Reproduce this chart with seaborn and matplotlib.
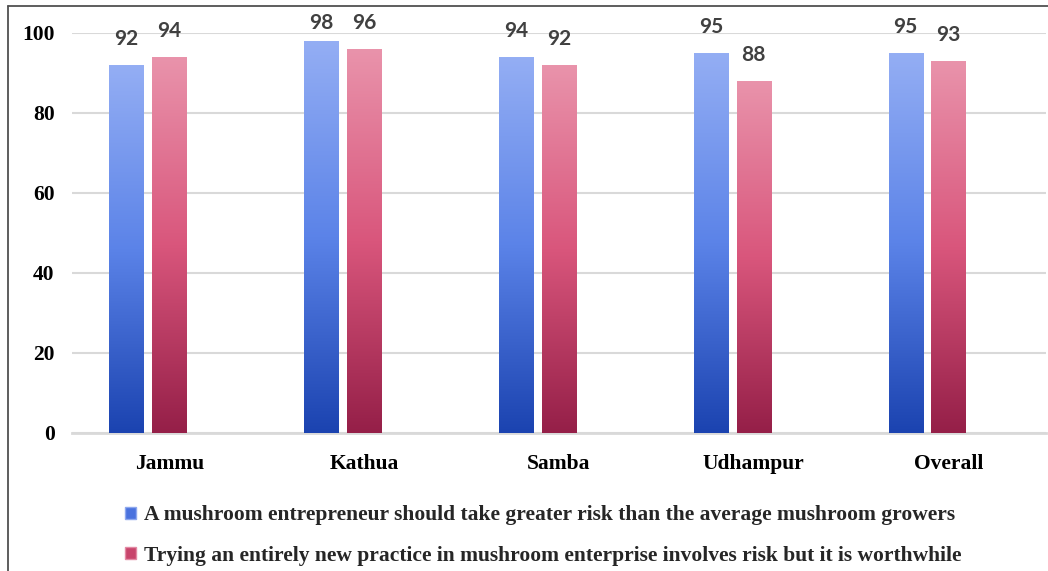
import numpy as np
import pandas as pd
import seaborn as sns
import matplotlib.pyplot as plt
from matplotlib.colors import LinearSegmentedColormap
from matplotlib.patches import Patch
from matplotlib.lines import Line2D

districts = ['Jammu', 'Kathua', 'Samba', 'Udhampur', 'Overall']
greater_risk = [92, 98, 94, 95, 95]
new_practice = [94, 96, 92, 88, 93]
empty_series = [np.nan] * 5  # excel chart had a third, empty series

lab1 = 'A mushroom entrepreneur should take greater risk than the average mushroom growers'
lab2 = 'Trying an entirely new practice in mushroom enterprise involves risk but it is worthwhile'

df = pd.DataFrame({
    'district': districts * 3,
    'series': [lab1] * 5 + [lab2] * 5 + ['blank'] * 5,
    'value': greater_risk + new_practice + empty_series,
})

sns.set_style('white')
plt.rcParams['font.family'] = ['Liberation Serif', 'DejaVu Serif']

fig = plt.figure(figsize=(10.48, 5.71), dpi=100)
ax = fig.add_axes([72/1048, 138/571, 974/1048, 400/571])

sns.barplot(data=df, x='district', y='value', hue='series',
            hue_order=[lab1, lab2, 'blank'], order=districts,
            palette=['#5b83e8', '#d9567c', '#ffffff'],
            width=0.66, gap=0.2, legend=False, ax=ax, zorder=3)

# gradient fill, light on top dark at bottom
cmaps = {
    0: LinearSegmentedColormap.from_list('b', ['#1b43b0', '#5b83e8', '#94aef4']),
    1: LinearSegmentedColormap.from_list('p', ['#951f48', '#d9567c', '#e993ab']),
}
grad = np.linspace(0, 1, 256).reshape(-1, 1)
bars = [p for p in ax.patches]
for i, p in enumerate(bars[:10]):
    s = i // 5
    x, w, h = p.get_x(), p.get_width(), p.get_height()
    if np.isnan(h) or h == 0:
        continue
    ax.imshow(grad, cmap=cmaps[s], extent=[x, x + w, 0, h], origin='lower',
              aspect='auto', zorder=3)
    p.set_facecolor('none')
    p.set_edgecolor('none')
    # value labels, excel pushes them down when they hit the top
    ytxt = min(h + 3.9, 99.9)
    ax.text(x + w / 2, ytxt, f'{int(h)}', ha='center', va='bottom',
            fontsize=15, fontweight='bold', family='Lato', color='#404040',
            clip_on=False, zorder=5)

ax.set_xlim(-0.5, 4.5)
ax.set_ylim(0, 100)
ax.set_yticks([0, 20, 40, 60, 80, 100])
ax.yaxis.grid(True, color='#d9d9d9', linewidth=1.5, zorder=0)
ax.set_axisbelow(True)
for side in ['top', 'right', 'left']:
    ax.spines[side].set_visible(False)
ax.spines['bottom'].set_color('#d9d9d9')
ax.spines['bottom'].set_linewidth(2)
ax.tick_params(axis='both', length=0, labelsize=15.5, colors='#000000')
ax.tick_params(axis='y', pad=12.5)
ax.tick_params(axis='x', pad=15)
for t in ax.get_xticklabels() + ax.get_yticklabels():
    t.set_fontweight('bold')
ax.set_xlabel('')
ax.set_ylabel('')

handles = [Patch(facecolor='#4a72de', edgecolor='#8ea8ee', label=lab1),
           Patch(facecolor='#c8456c', edgecolor='#e38aa4', label=lab2)]
fig.legend(handles=handles, loc='upper left', bbox_to_anchor=(106/1048, 1 - 486/571),
           frameon=False, prop={'weight': 'bold', 'size': 15.5},
           handlelength=0.5, handleheight=0.5, handletextpad=0.35, labelspacing=0.95)

# outer chart border (top and left visible)
fig.add_artist(Line2D([8/1048, 1], [1 - 6/571, 1 - 6/571], color='#505050', linewidth=1.3))
fig.add_artist(Line2D([8/1048, 8/1048], [0, 1 - 6/571], color='#505050', linewidth=1.3))

fig.savefig('out.png', dpi=100)
